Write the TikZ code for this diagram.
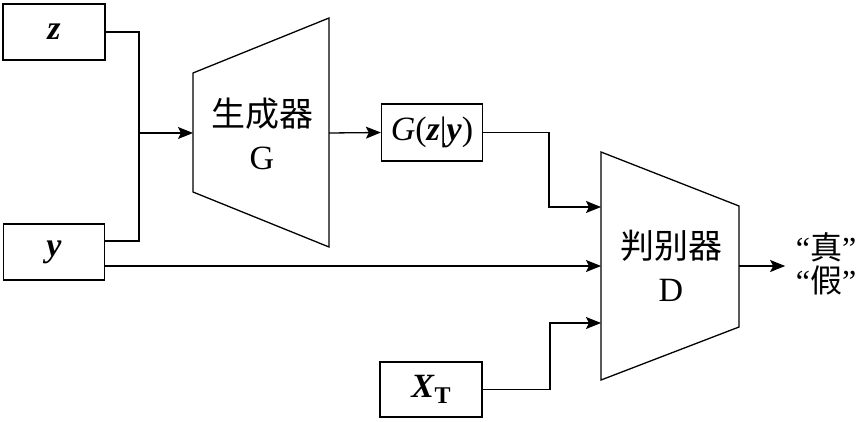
\documentclass[tikz,border=0pt]{standalone}
\usepackage{fontspec}
\setmainfont{Liberation Serif}
\newfontfamily\cjk{Noto Sans CJK SC}
\usetikzlibrary{arrows.meta,calc}
\begin{document}
\begin{tikzpicture}[x=1pt,y=-1pt, line width=1.3pt,
 box/.style={draw, rectangle, inner sep=0pt, font=\fontsize{34}{40}\selectfont},
 arr/.style={-{Stealth[length=15pt,width=12pt,inset=3pt]}},
 block/.style={draw, line join=miter},
 lbl/.style={align=center, inner sep=0pt}]
\path[use as bounding box] (0,0) rectangle (861,422);

% input boxes
\node[box, minimum width=102pt, minimum height=56pt] (z) at (54,32) {\textbf{\textit{z}}};
\node[box, minimum width=101pt, minimum height=56pt] (y) at (54,252) {\textbf{\textit{y}}};
\node[box, minimum width=101pt, minimum height=57pt] (gz) at (432,132.5) {\textit{G}(\textbf{\textit{z}}|\textbf{\textit{y}})};
\node[box, minimum width=102pt, minimum height=55pt] (xt) at (431,389.5) {\textbf{\textit{X}}\raisebox{-6pt}{\fontsize{24}{24}\selectfont\textbf{T}}};

% generator
\draw[block] (193,73) -- (329,18) -- (329,247) -- (193,192) -- cycle;
\node[lbl, font=\fontsize{34}{43}\selectfont] (gtext) at (262,134) {{\cjk 生成器}\\G};
\coordinate (gin) at (193,133);
\coordinate (gout) at (329,133);

% discriminator
\draw[block] (601,152) -- (739,206) -- (739,327) -- (601,380) -- cycle;
\node[lbl, font=\fontsize{34}{43}\selectfont] (dtext) at (671,266) {{\cjk 判别器}\\D};
\coordinate (d1) at (601,207);
\coordinate (d2) at (601,266);
\coordinate (d3) at (601,323);
\coordinate (dout) at (739,266);

% output text
\node[lbl, font=\fontsize{32}{33}\selectfont] (out) at (826,264) {“{\cjk 真}”\\“{\cjk 假}”};

% connectors
\coordinate (j) at (139,133);
\draw (z.east) -| (j);
\draw ([yshift=11pt]y.east) -| (j);
\draw[arr] (j) -- (gin);
\draw[arr] (gout) -- (gz.west);
\draw[arr] (gz.east) -| ([xshift=-52pt]d1) -- (d1);
\draw[arr] ([yshift=-14pt]y.east) -- (d2);
\draw[arr] (xt.east) -| ([xshift=-51pt]d3) -- (d3);
\draw[arr] (dout) -- ([xshift=-10pt]dout -| out.west);
\end{tikzpicture}
\end{document}
